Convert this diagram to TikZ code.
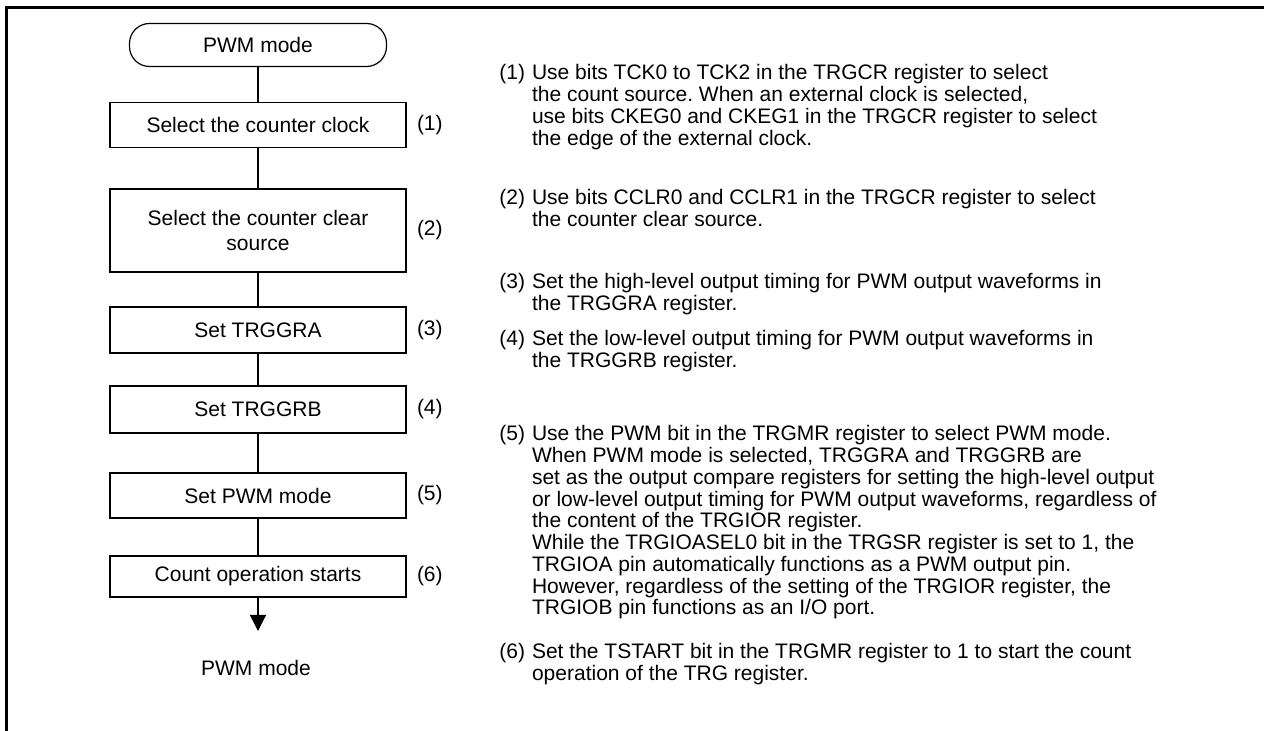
\documentclass[tikz,border=0pt]{standalone}
\usepackage{fontspec}
\setmainfont{Liberation Sans}
\usetikzlibrary{arrows.meta, positioning}
\frenchspacing

\tikzset{
  stepbox/.style={draw, line width=0.6pt, minimum width=148pt, inner sep=0pt, align=center},
  numlab/.style={anchor=west, inner sep=0pt},
  note/.style={anchor=base west, inner sep=0pt},
}
\newcommand{\notetab}[1]{\begin{tabular}[t]{@{}l@{\hspace{3.5pt}}l@{}}#1\end{tabular}}

\begin{document}
\begin{tikzpicture}[x=0.5pt, y=-0.5pt, every node/.style={font=\fontsize{10.5}{10.85}\selectfont}]
\useasboundingbox (0,0) rectangle (1264,731);
\draw[line width=1.5pt] (6.5,731) -- (6.5,7.5) -- (1264,7.5);

% flow chart
\node[stepbox, rounded corners=10pt, minimum width=128.5pt, minimum height=21.5pt] (start) at (258,45) {PWM mode};
\node[stepbox, minimum height=22.5pt] (clk) at (258,125) {Select the counter clock};
\node[stepbox, minimum height=41.5pt] (clr) at (258,230.5) {Select the counter clear\\[2pt]source};
\node[stepbox, minimum height=23pt] (gra) at (258,330) {Set TRGGRA};
\node[stepbox, minimum height=23.5pt] (grb) at (258,409.5) {Set TRGGRB};
\node[stepbox, minimum height=22.5pt] (pwm) at (258,495.5) {Set PWM mode};
\node[stepbox, minimum height=20.5pt] (cnt) at (258,576.5) {Count operation starts};
\coordinate (tip) at (258,631);
\node (fin) at (256,668) {PWM mode};

\draw[line width=0.6pt] (start) -- (clk) -- (clr) -- (gra) -- (grb) -- (pwm) -- (cnt);
\draw[line width=0.6pt, -{Triangle[width=8pt,length=8pt]}] (cnt) -- (tip);

\foreach \n/\b in {1/clk,2/clr,3/gra,4/grb,5/pwm,6/cnt} { \node[numlab, right=5pt of \b] (lab\n) {(\n)}; }

% notes
\node[note] (n1) at (499,80) {\notetab{(1) & Use bits TCK0 to TCK2 in the TRGCR register to select\\
 & the count source. When an external clock is selected,\\
 & use bits CKEG0 and CKEG1 in the TRGCR register to select\\
 & the edge of the external clock.}};
\node[note] (n2) at (499,205) {\notetab{(2) & Use bits CCLR0 and CCLR1 in the TRGCR register to select\\
 & the counter clear source.}};
\node[note] (n3) at (499,289) {\notetab{(3) & Set the high-level output timing for PWM output waveforms in\\
 & the TRGGRA register.}};
\node[note] (n4) at (499,346) {\notetab{(4) & Set the low-level output timing for PWM output waveforms in\\
 & the TRGGRB register.}};
\node[note] (n5) at (499,441) {\notetab{(5) & Use the PWM bit in the TRGMR register to select PWM mode.\\
 & When PWM mode is selected, TRGGRA and TRGGRB are\\
 & set as the output compare registers for setting the high-level output\\
 & or low-level output timing for PWM output waveforms, regardless of\\
 & the content of the TRGIOR register.\\
 & While the TRGIOASEL0 bit in the TRGSR register is set to 1, the\\
 & TRGIOA pin automatically functions as a PWM output pin.\\
 & However, regardless of the setting of the TRGIOR register, the\\
 & TRGIOB pin functions as an I/O port.}};
\node[note] (n6) at (499,659) {\notetab{(6) & Set the TSTART bit in the TRGMR register to 1 to start the count\\
 & operation of the TRG register.}};
\end{tikzpicture}
\end{document}
